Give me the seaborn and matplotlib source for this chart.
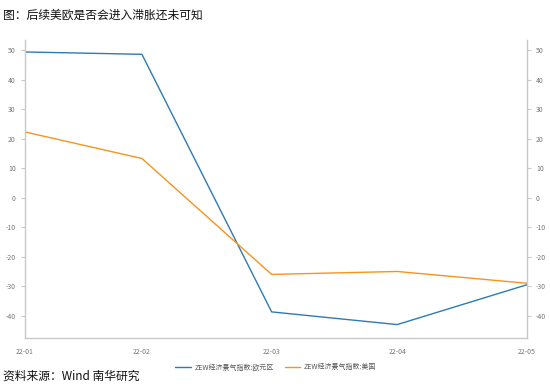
import pandas as pd
import numpy as np
import matplotlib.pyplot as plt
import matplotlib.dates as mdates
import seaborn as sns

# 数据（月末日期）
fechas = pd.to_datetime(['2022-01-31', '2022-02-28', '2022-03-31', '2022-04-30', '2022-05-31'])
zew_euro = [49.4, 48.6, -38.7, -43.0, -29.5]
zew_us = [22.3, 13.3, -26.0, -25.0, -29.0]
etiquetas_x = ['22-01', '22-02', '22-03', '22-04', '22-05']
ticks_y = list(range(-40, 60, 10))

nombre_euro = 'ZEW经济景气指数:欧元区'
nombre_us = 'ZEW经济景气指数:美国'

df = pd.DataFrame({
    'fecha': list(fechas) * 2,
    'valor': zew_euro + zew_us,
    'serie': [nombre_euro] * 5 + [nombre_us] * 5,
})

sns.set_style('white')
plt.rcParams['font.family'] = ['Noto Sans CJK SC', 'DejaVu Sans']

fig = plt.figure(figsize=(5.5, 3.87), dpi=100)
ax = fig.add_axes([0.045, 0.127, 0.913, 0.77])

sns.lineplot(data=df, x='fecha', y='valor', hue='serie', ax=ax,
             palette={nombre_euro: '#2e7ab4', nombre_us: '#f7931e'},
             linewidth=1.0, legend=True)

ax.set_xlim(fechas[0], fechas[-1])
ax.set_ylim(-47.5, 53.5)
ax.set_xlabel('')
ax.set_ylabel('')
ax.set_xticks(fechas)
ax.set_xticklabels(etiquetas_x)
medios = [fechas[i] + (fechas[i + 1] - fechas[i]) / 2 for i in range(4)]
ax.set_xticks(medios, minor=True)
ax.set_yticks(ticks_y)
ax.set_yticklabels([str(v) for v in ticks_y])

gris = '#c8c8c8'
for lado in ['left', 'right', 'bottom']:
    ax.spines[lado].set_color(gris)
    ax.spines[lado].set_linewidth(1.0)
ax.spines['top'].set_visible(False)
ax.tick_params(axis='both', which='both', colors=gris, labelcolor='#777777',
               labelsize=5, length=3, width=0.8, direction='out')
ax.tick_params(axis='x', which='major', pad=4)

# eje derecho con la misma escala
ax2 = ax.twinx()
ax2.set_ylim(ax.get_ylim())
ax2.set_yticks(ticks_y)
ax2.set_yticklabels([str(v) for v in ticks_y])
for lado in ['left', 'right', 'bottom', 'top']:
    ax2.spines[lado].set_visible(False)
ax2.tick_params(axis='y', colors=gris, labelcolor='#777777', labelsize=5,
                length=3, width=0.8, direction='out')

leg = ax.legend(loc='upper center', bbox_to_anchor=(0.5, -0.065), ncol=2,
                frameon=False, fontsize=5, handlelength=2.2, columnspacing=1.5,
                handletextpad=0.6)
for t in leg.get_texts():
    t.set_color('#555555')

fig.text(0.005, 0.977, '图：后续美欧是否会进入滞胀还未可知', fontsize=8.5,
         ha='left', va='top', color='#111111', fontweight='medium')
fig.text(0.005, 0.01, '资料来源：Wind 南华研究', fontsize=8.5,
         ha='left', va='bottom', color='#111111', fontweight='medium')

fig.savefig('out.png', dpi=100)
